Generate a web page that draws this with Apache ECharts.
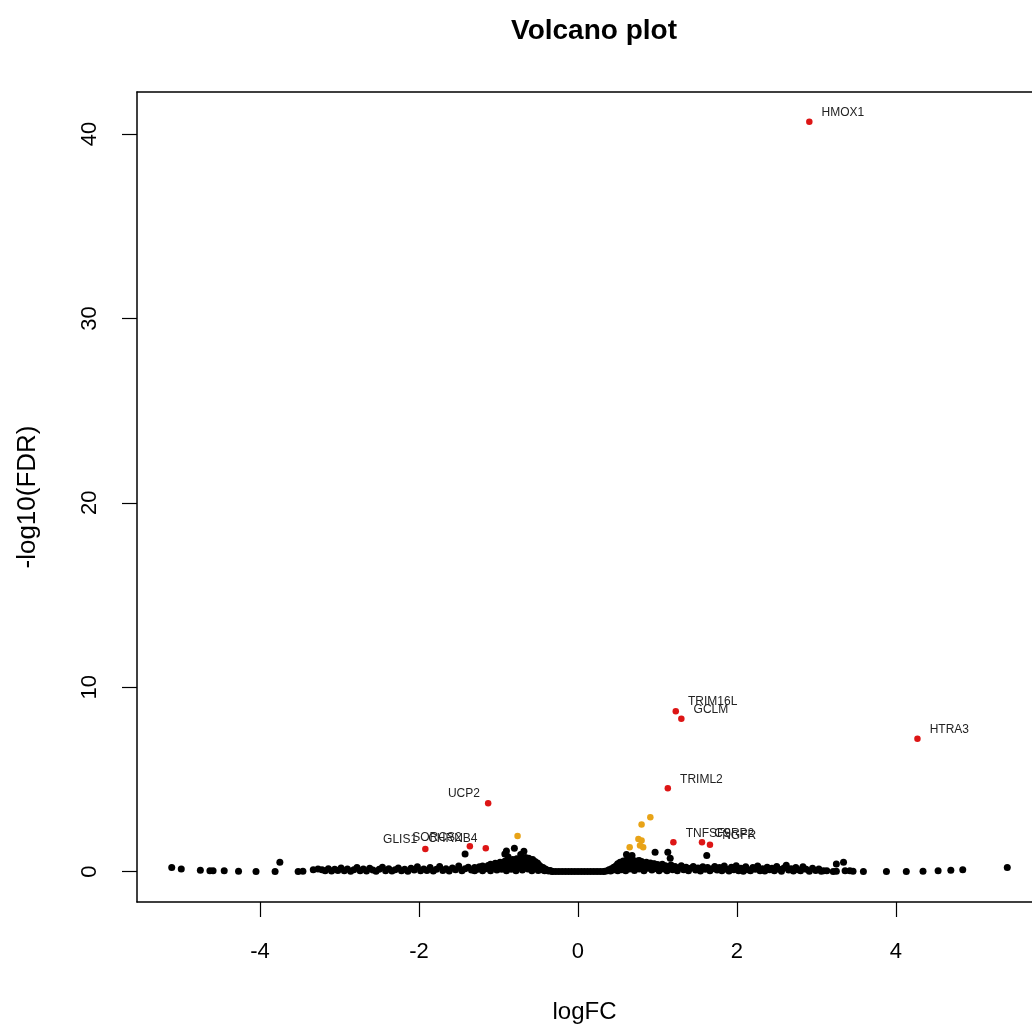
<!DOCTYPE html>
<html>
<head>
<meta charset="utf-8">
<title>Volcano plot</title>
<script src="https://cdn.jsdelivr.net/npm/echarts@6/dist/echarts.min.js"></script>
<style>
  html, body { margin: 0; padding: 0; background: #fff; }
  #volcano { width: 1032px; height: 1030px; }
</style>
</head>
<body>
<div id="volcano"></div>
<script>
// tick labels
const xTicks = [-4, -2, 0, 2, 4];
const yTicks = [0, 10, 20, 30, 40];

// labelled genes (red)
const sigGenes = ['HMOX1', 'HTRA3', 'TRIM16L', 'GCLM', 'TRIML2', 'TNFSF9', 'CSRP2', 'NGFR', 'UCP2', 'GLIS1', 'SORCS2', 'CHRNB4'];
const sigLogFC = [2.91, 4.27, 1.23, 1.30, 1.13, 1.20, 1.56, 1.66, -1.13, -1.92, -1.36, -1.16];
const sigFDR = [40.66, 7.20, 8.70, 8.29, 4.52, 1.59, 1.59, 1.46, 3.71, 1.23, 1.37, 1.27];

// significant but small fold change (orange)
const midLogFC = [-0.76, 0.91, 0.80, 0.76, 0.80, 0.78, 0.82, 0.65];
const midFDR = [1.93, 2.95, 2.55, 1.77, 1.68, 1.41, 1.32, 1.32];

// not significant (black), [logFC, -log10(FDR)]
const nsLeftTail = [
  [-5.11, 0.22], [-4.99, 0.14], [-4.75, 0.07], [-4.63, 0.05], [-4.59, 0.04], [-4.45, 0.04],
  [-4.27, 0.02], [-4.05, 0.01], [-3.81, 0.01], [-3.75, 0.50], [-3.52, 0.01], [-3.46, 0.02],
  [-3.33, 0.10], [-3.27, 0.14], [-3.22, 0.10]
];
const nsLeftBand = [
  [-3.18, 0.05], [-3.14, 0.16], [-3.10, 0.03], [-3.06, 0.12], [-3.02, 0.06], [-2.98, 0.20],
  [-2.94, 0.04], [-2.90, 0.14], [-2.86, 0.02], [-2.82, 0.10], [-2.78, 0.22], [-2.74, 0.05],
  [-2.70, 0.14], [-2.66, 0.03], [-2.62, 0.18], [-2.58, 0.08], [-2.54, 0.02], [-2.50, 0.12],
  [-2.46, 0.24], [-2.42, 0.05], [-2.38, 0.15], [-2.34, 0.03], [-2.30, 0.10], [-2.26, 0.20],
  [-2.22, 0.04], [-2.18, 0.13], [-2.14, 0.02], [-2.10, 0.18], [-2.06, 0.08], [-2.02, 0.26],
  [-1.98, 0.04], [-1.94, 0.14], [-1.90, 0.06], [-1.86, 0.22], [-1.82, 0.03], [-1.78, 0.12],
  [-1.74, 0.28], [-1.70, 0.06], [-1.66, 0.16], [-1.62, 0.03], [-1.58, 0.20], [-1.54, 0.10],
  [-1.50, 0.30], [-1.46, 0.04], [-1.42, 0.16], [-1.38, 0.24], [-1.34, 0.08]
];
const nsLeftHump = [
  [-1.30, 0.05], [-1.30, 0.22], [-1.26, 0.12], [-1.24, 0.26], [-1.20, 0.04], [-1.20, 0.30],
  [-1.16, 0.16], [-1.13, 0.33], [-1.10, 0.05], [-1.10, 0.40], [-1.07, 0.22], [-1.04, 0.45],
  [-1.02, 0.08], [-1.00, 0.28], [-0.98, 0.50], [-0.96, 0.12], [-0.94, 0.38], [-0.92, 0.56],
  [-0.90, 0.05], [-0.89, 0.25], [-0.87, 0.60], [-0.86, 0.42], [-0.84, 0.12], [-0.82, 0.66],
  [-0.81, 0.32], [-0.79, 0.50], [-0.78, 0.05], [-0.77, 0.70], [-0.75, 0.22], [-0.74, 0.58],
  [-0.72, 0.40], [-0.71, 0.74], [-0.70, 0.08], [-0.68, 0.30], [-0.67, 0.62], [-0.66, 0.76],
  [-0.64, 0.46], [-0.63, 0.14], [-0.62, 0.72], [-0.60, 0.30], [-0.59, 0.60], [-0.58, 0.04],
  [-0.57, 0.66], [-0.56, 0.44], [-0.55, 0.18], [-0.54, 0.55], [-0.52, 0.32], [-0.51, 0.46],
  [-0.50, 0.06], [-0.49, 0.36], [-0.48, 0.20], [-0.47, 0.28], [-0.45, 0.10], [-0.44, 0.22],
  [-0.42, 0.04], [-0.41, 0.14], [-0.39, 0.08], [-0.37, 0.03], [-0.35, 0.06], [-0.33, 0.02]
];
const nsCenter = [
  [-0.32, 0.01], [-0.28, 0.00], [-0.24, 0.01], [-0.20, 0.00], [-0.16, 0.00], [-0.12, 0.01],
  [-0.08, 0.00], [-0.04, 0.00], [0.00, 0.00], [0.04, 0.00], [0.08, 0.01], [0.12, 0.00],
  [0.16, 0.00], [0.20, 0.01], [0.24, 0.00], [0.28, 0.01], [0.32, 0.01]
];
const nsRightHump = [
  [0.34, 0.02], [0.37, 0.05], [0.39, 0.10], [0.41, 0.03], [0.42, 0.16], [0.44, 0.08],
  [0.45, 0.24], [0.47, 0.14], [0.48, 0.32], [0.50, 0.04], [0.50, 0.42], [0.52, 0.22],
  [0.53, 0.50], [0.55, 0.10], [0.55, 0.36], [0.57, 0.58], [0.58, 0.26], [0.59, 0.46],
  [0.60, 0.05], [0.61, 0.62], [0.62, 0.34], [0.64, 0.54], [0.65, 0.14], [0.66, 0.64],
  [0.67, 0.42], [0.69, 0.24], [0.70, 0.60], [0.71, 0.06], [0.72, 0.48], [0.74, 0.32],
  [0.75, 0.58], [0.77, 0.14], [0.78, 0.44], [0.80, 0.54], [0.81, 0.26], [0.83, 0.05],
  [0.84, 0.40], [0.86, 0.50], [0.88, 0.18], [0.89, 0.34], [0.91, 0.46], [0.93, 0.08],
  [0.95, 0.28], [0.96, 0.42], [0.99, 0.16], [1.00, 0.38], [1.02, 0.05], [1.04, 0.30],
  [1.06, 0.40], [1.08, 0.14], [1.10, 0.32], [1.12, 0.04], [1.14, 0.24], [1.17, 0.36],
  [1.19, 0.10], [1.22, 0.28], [1.25, 0.04], [1.27, 0.20], [1.30, 0.32], [1.33, 0.10],
  [1.36, 0.24], [1.39, 0.05], [1.42, 0.18], [1.45, 0.28], [1.48, 0.08], [1.51, 0.20],
  [1.54, 0.03], [1.57, 0.26], [1.60, 0.12], [1.63, 0.22], [1.66, 0.04], [1.69, 0.16],
  [1.72, 0.28], [1.75, 0.08]
];
const nsRightBand = [
  [1.78, 0.22], [1.81, 0.05], [1.84, 0.30], [1.87, 0.12], [1.90, 0.03], [1.93, 0.24],
  [1.96, 0.10], [1.99, 0.32], [2.02, 0.05], [2.05, 0.18], [2.08, 0.02], [2.11, 0.26],
  [2.14, 0.10], [2.17, 0.04], [2.20, 0.22], [2.23, 0.12], [2.26, 0.30], [2.29, 0.05],
  [2.32, 0.16], [2.35, 0.03], [2.38, 0.24], [2.41, 0.10], [2.44, 0.18], [2.47, 0.04],
  [2.50, 0.28], [2.53, 0.12], [2.56, 0.02], [2.59, 0.20], [2.62, 0.34], [2.65, 0.08],
  [2.68, 0.16], [2.71, 0.03], [2.74, 0.22], [2.77, 0.10], [2.80, 0.04], [2.83, 0.26],
  [2.87, 0.12], [2.91, 0.02], [2.95, 0.18], [2.99, 0.06], [3.03, 0.14], [3.06, 0.02]
];
const nsRightTail = [
  [3.09, 0.05], [3.13, 0.04], [3.21, 0.01], [3.25, 0.41], [3.25, 0.02], [3.34, 0.50],
  [3.36, 0.05], [3.42, 0.05], [3.46, 0.02], [3.59, 0.01], [3.88, 0.01], [4.13, 0.01],
  [4.34, 0.02], [4.53, 0.04], [4.69, 0.07], [4.84, 0.10], [5.40, 0.22]
];
const nsOutliers = [
  [-1.42, 0.96], [-0.92, 0.95], [-0.90, 1.12], [-0.80, 1.27], [-0.68, 1.10], [-0.88, 0.80],
  [-0.72, 0.92], [-0.98, 0.45], [0.61, 0.92], [0.68, 0.87], [0.77, 0.60], [0.97, 1.05],
  [1.13, 1.05], [1.16, 0.72], [0.95, 0.41], [1.62, 0.87]
];

const nsPoints = [].concat(nsLeftTail, nsLeftBand, nsLeftHump, nsCenter,
  nsRightHump, nsRightBand, nsRightTail, nsOutliers);

const sigData = sigGenes.map(function (g, i) {
  return {
    name: g,
    value: [sigLogFC[i], sigFDR[i]],
    label: { position: sigLogFC[i] < 0 ? 'left' : 'right', distance: sigLogFC[i] < 0 ? 5 : 9 }
  };
});
const midData = midLogFC.map(function (x, i) { return [x, midFDR[i]]; });

const font = 'Liberation Sans, Arial, Helvetica, sans-serif';
const boxLine = { show: true, onZero: false, lineStyle: { color: '#000', width: 1.5 } };
const chart = echarts.init(document.getElementById('volcano'));
chart.setOption({
  animation: false,
  backgroundColor: '#fff',
  title: {
    text: 'Volcano plot',
    left: 589,
    top: 12,
    textAlign: 'center',
    textStyle: { fontFamily: font, fontSize: 28, fontWeight: 'bold', color: '#000' }
  },
  grid: {
    left: 137,
    top: 92,
    right: 0,
    height: 810,
    show: false
  },
  xAxis: [
    {
      type: 'value',
      position: 'bottom',
      min: -5.547,
      max: 5.711,
      name: 'logFC',
      nameLocation: 'middle',
      nameGap: 98,
      nameTextStyle: { fontFamily: font, fontSize: 24, color: '#000' },
      axisLine: boxLine,
      axisTick: { show: true, length: 15, inside: false, customValues: xTicks, lineStyle: { color: '#000', width: 1.2 } },
      axisLabel: { customValues: xTicks, margin: 39, fontFamily: font, fontSize: 22, color: '#000' },
      splitLine: { show: false }
    },
    {
      // top edge of the plot box
      type: 'value',
      position: 'top',
      min: -5.547,
      max: 5.711,
      axisLine: boxLine,
      axisTick: { show: false },
      axisLabel: { show: false },
      splitLine: { show: false }
    }
  ],
  yAxis: {
    type: 'value',
    position: 'left',
    min: -1.65,
    max: 42.28,
    name: '-log10(FDR)',
    nameLocation: 'middle',
    nameGap: 96,
    nameTextStyle: { fontFamily: font, fontSize: 26, color: '#000' },
    axisLine: boxLine,
    axisTick: { show: true, length: 15, inside: false, customValues: yTicks, lineStyle: { color: '#000', width: 1.2 } },
    axisLabel: { customValues: yTicks, rotate: 90, margin: 36, fontFamily: font, fontSize: 22, color: '#000' },
    splitLine: { show: false }
  },
  series: [
    {
      name: 'ns',
      type: 'scatter',
      symbolSize: 7,
      itemStyle: { color: '#000', opacity: 1 },
      data: nsPoints,
      z: 2
    },
    {
      name: 'fdr',
      type: 'scatter',
      symbolSize: 6.5,
      itemStyle: { color: '#E8A317', opacity: 1 },
      data: midData,
      z: 3
    },
    {
      name: 'sig',
      type: 'scatter',
      symbolSize: 6.5,
      itemStyle: { color: '#DD1515', opacity: 1 },
      data: sigData,
      z: 4,
      label: {
        show: true,
        formatter: '{b}',
        offset: [0, -9],
        fontFamily: font,
        fontSize: 12,
        color: '#222'
      }
    }
  ]
});
</script>
</body>
</html>
